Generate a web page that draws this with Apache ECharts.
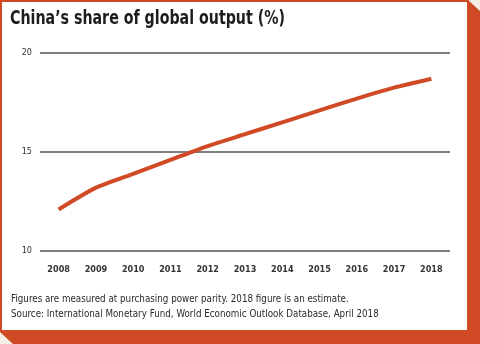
<!DOCTYPE html>
<html>
<head>
<meta charset="utf-8">
<style>
  html, body { margin: 0; padding: 0; background: #f4efe3; }
  #chart { width: 480px; height: 344px; }
</style>
<script src="https://cdn.jsdelivr.net/npm/echarts@6/dist/echarts.min.js"></script>
</head>
<body>
<div id="chart"></div>
<script>
// China's share of global output, percent (PPP basis)
const years = ['2008', '2009', '2010', '2011', '2012', '2013', '2014', '2015', '2016', '2017', '2018'];
const share = [12.1, 13.2, 13.9, 14.6, 15.3, 15.9, 16.5, 17.1, 17.7, 18.25, 18.7];
const yTicks = { min: 10, max: 20, step: 5 };

const titleText = 'China\u2019s share of global output (%)';
const noteLines = [
  'Figures are measured at purchasing power parity. 2018 figure is an estimate.',
  'Source: International Monetary Fund, World Economic Outlook Database, April 2018'
];

const accent = '#cf4a25';
const condensed = "'DejaVu Sans Condensed', sans-serif";

const chart = echarts.init(document.getElementById('chart'), null, { renderer: 'canvas' });

chart.setOption({
  animation: false,
  backgroundColor: '#f4efe3',
  graphic: [
    // offset card shadow
    {
      type: 'polygon', z: -10, silent: true,
      shape: { points: [[468, 0], [480, 11], [480, 344], [13, 344], [0, 332], [468, 332]] },
      style: { fill: accent }
    },
    // white card with thin border
    {
      type: 'rect', z: -9, silent: true,
      shape: { x: 1, y: 1, width: 467, height: 330 },
      style: { fill: '#ffffff', stroke: accent, lineWidth: 2 }
    },
    {
      type: 'text', x: 10, y: 9, scaleX: 0.79,
      style: {
        text: titleText, fill: '#1d1d1b',
        font: "bold 20px " + condensed
      }
    },
    {
      type: 'text', x: 11, y: 292, scaleX: 0.885,
      style: {
        text: noteLines.join('\n'), fill: '#2a2a2a', lineHeight: 15,
        font: "11px " + condensed
      }
    }
  ],
  grid: { left: 40, right: 30, top: 53, bottom: 93 },
  xAxis: {
    type: 'category',
    data: years,
    boundaryGap: true,
    axisLine: { show: false },
    axisTick: { show: false },
    axisLabel: { color: '#333', fontFamily: condensed, fontSize: 9, fontWeight: 'bold', margin: 14 }
  },
  yAxis: {
    type: 'value',
    min: yTicks.min, max: yTicks.max, interval: yTicks.step,
    axisLine: { show: false },
    axisTick: { show: false },
    axisLabel: { color: '#333', fontFamily: condensed, fontSize: 9, margin: 8 },
    splitLine: { lineStyle: { color: '#555', width: 1.5 } }
  },
  series: [{
    type: 'line',
    data: share,
    smooth: 0.2,
    symbol: 'none',
    lineStyle: { color: accent, width: 4 }
  }]
});
</script>
</body>
</html>
